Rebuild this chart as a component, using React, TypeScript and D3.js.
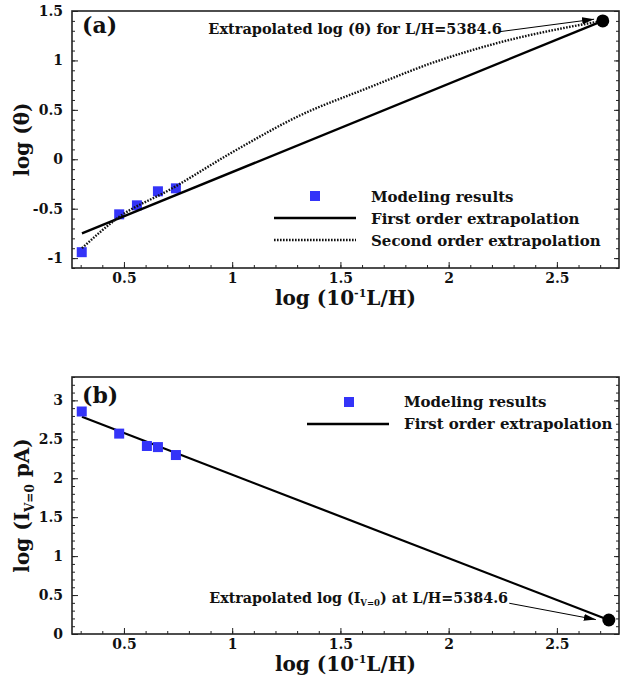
import React, { useEffect, useRef } from 'react';
import * as d3 from 'd3';

const W = 622;
const H = 684;
const FONT = '"DejaVu Serif", serif';
const BLUE = '#3434f8';

// Panel (a): log(theta)
const modelXa = [0.305, 0.478, 0.56, 0.657, 0.74];
const modelYa = [-0.94, -0.557, -0.466, -0.324, -0.294];
const firstXa = [0.306, 2.712];
const firstYa = [-0.75, 1.4];
const secondXa = [0.306, 0.48, 0.71, 1.0, 1.315, 1.625, 1.931, 2.241, 2.551, 2.712];
const secondYa = [-0.9, -0.58, -0.31, 0.07, 0.445, 0.72, 0.98, 1.185, 1.336, 1.4];
const extrapA = [2.712, 1.4];

// Panel (b): log(I_V=0)
const modelXb = [0.305, 0.478, 0.606, 0.657, 0.74];
const modelYb = [2.857, 2.573, 2.414, 2.4, 2.298];
const firstXb = [0.306, 2.74];
const firstYb = [2.79, 0.18];
const extrapB = [2.74, 0.18];

const xTicks = [0.5, 1, 1.5, 2, 2.5];
const yTicksA = [-1, -0.5, 0, 0.5, 1, 1.5];
const yTicksB = [0, 0.5, 1, 1.5, 2, 2.5, 3];

const pts = (xs: number[], ys: number[]) => xs.map((x, i) => [x, ys[i]] as [number, number]);

const App: React.FC = () => {
  const svgRef = useRef<SVGSVGElement>(null);

  useEffect(() => {
    if (!svgRef.current) return;
    const svg = d3.select(svgRef.current);
    svg.selectAll('*').remove();

    const defs = svg.append('defs');
    defs.append('marker')
      .attr('id', 'arrow')
      .attr('markerUnits', 'userSpaceOnUse')
      .attr('markerWidth', 13)
      .attr('markerHeight', 8)
      .attr('refX', 12)
      .attr('refY', 3.5)
      .attr('orient', 'auto')
      .append('path')
      .attr('d', 'M0,0 L12,3.5 L0,7 Z')
      .attr('fill', '#000');

    const left = 72, right = 619;

    const x = d3.scaleLinear().domain([0.26, 2.787]).range([left, right]);

    const drawPanel = (
      top: number,
      bottom: number,
      yDomain: [number, number],
      yTicks: number[],
      yMinorStart: number
    ) => {
      const y = d3.scaleLinear().domain(yDomain).range([bottom, top]);
      const g = svg.append('g');

      const xMinor = d3.range(0.3, 2.76, 0.1).map(v => +v.toFixed(2));
      const yMinor = d3.range(yMinorStart, yDomain[1] + 0.001, 0.1).map(v => +v.toFixed(2));

      // bottom axis
      g.append('g')
        .attr('transform', `translate(0,${bottom})`)
        .call(d3.axisBottom(x).tickValues(xMinor).tickSize(-3).tickFormat(() => ''))
        .call(a => a.select('.domain').remove());
      g.append('g')
        .attr('transform', `translate(0,${bottom})`)
        .call(d3.axisBottom(x).tickValues(xTicks).tickSize(-6).tickPadding(5).tickFormat(d => String(d)))
        .call(a => a.select('.domain').remove())
        .call(a => a.selectAll('text').attr('font-family', FONT).attr('font-weight', 'bold').attr('font-size', 14).attr('fill', '#111'));

      // left axis
      g.append('g')
        .attr('transform', `translate(${left},0)`)
        .call(d3.axisLeft(y).tickValues(yMinor).tickSize(-3).tickFormat(() => ''))
        .call(a => a.select('.domain').remove());
      g.append('g')
        .attr('transform', `translate(${left},0)`)
        .call(d3.axisLeft(y).tickValues(yTicks).tickSize(-6).tickPadding(9).tickFormat(d => String(d)))
        .call(a => a.select('.domain').remove())
        .call(a => a.selectAll('text').attr('font-family', FONT).attr('font-weight', 'bold').attr('font-size', 14).attr('fill', '#111'));

      // right axis (ticks only)
      g.append('g')
        .attr('transform', `translate(${right},0)`)
        .call(d3.axisRight(y).tickValues(yMinor).tickSize(-3).tickFormat(() => ''))
        .call(a => a.select('.domain').remove());
      g.append('g')
        .attr('transform', `translate(${right},0)`)
        .call(d3.axisRight(y).tickValues(yTicks).tickSize(-5).tickFormat(() => ''))
        .call(a => a.select('.domain').remove());

      g.selectAll('.tick line').attr('stroke', '#222').attr('stroke-width', 1);

      // frame
      g.append('rect')
        .attr('x', left)
        .attr('y', top)
        .attr('width', right - left)
        .attr('height', bottom - top)
        .attr('fill', 'none')
        .attr('stroke', '#222')
        .attr('stroke-width', 1.6);

      return { g, y };
    };

    const line = (yS: d3.ScaleLinear<number, number>) =>
      d3.line<[number, number]>().x(d => x(d[0])).y(d => yS(d[1]));

    const squares = (g: any, yS: d3.ScaleLinear<number, number>, data: [number, number][]) => {
      g.selectAll(null)
        .data(data)
        .enter().append('rect')
        .attr('x', (d: [number, number]) => x(d[0]) - 5)
        .attr('y', (d: [number, number]) => yS(d[1]) - 5)
        .attr('width', 10)
        .attr('height', 10)
        .attr('fill', BLUE);
    };

    const boldText = (g: any, tx: number, ty: number, size: number, anchor = 'start') =>
      g.append('text')
        .attr('x', tx)
        .attr('y', ty)
        .attr('font-family', FONT)
        .attr('font-weight', 'bold')
        .attr('font-size', size)
        .attr('text-anchor', anchor)
        .attr('fill', '#111');

    // ---------- Panel (a) ----------
    const A = drawPanel(11, 268, [-1.1, 1.5], yTicksA, -1.1);
    const ya = A.y;

    squares(A.g, ya, pts(modelXa, modelYa));

    A.g.append('path')
      .datum(pts(firstXa, firstYa))
      .attr('d', line(ya))
      .attr('fill', 'none')
      .attr('stroke', '#000')
      .attr('stroke-width', 2.4);

    A.g.append('path')
      .datum(pts(secondXa, secondYa))
      .attr('d', line(ya).curve(d3.curveMonotoneX))
      .attr('fill', 'none')
      .attr('stroke', '#111')
      .attr('stroke-width', 2.4)
      .attr('stroke-dasharray', '1.6,1.4');

    A.g.append('circle')
      .attr('cx', x(extrapA[0]))
      .attr('cy', ya(extrapA[1]))
      .attr('r', 6.5)
      .attr('fill', '#000');

    boldText(A.g, x(0.89), ya(1.265), 14.5).text('Extrapolated log (θ) for L/H=5384.6');
    A.g.append('line')
      .attr('x1', x(2.233)).attr('y1', ya(1.29))
      .attr('x2', x(2.672)).attr('y2', ya(1.417))
      .attr('stroke', '#000').attr('stroke-width', 1)
      .attr('marker-end', 'url(#arrow)');

    boldText(A.g, 82, 33, 22).text('(a)');

    // legend (a)
    A.g.append('rect').attr('x', 310).attr('y', 191).attr('width', 10).attr('height', 10).attr('fill', BLUE);
    A.g.append('line').attr('x1', 274).attr('x2', 356).attr('y1', 218).attr('y2', 218)
      .attr('stroke', '#000').attr('stroke-width', 2.4);
    A.g.append('line').attr('x1', 274).attr('x2', 356).attr('y1', 240).attr('y2', 240)
      .attr('stroke', '#111').attr('stroke-width', 2.4).attr('stroke-dasharray', '1.6,1.4');
    boldText(A.g, 371, 202, 15).text('Modeling results');
    boldText(A.g, 371, 223.5, 15).text('First order extrapolation');
    boldText(A.g, 371, 245.5, 15).text('Second order extrapolation');

    // axis titles (a)
    const xtA = boldText(A.g, (left + right) / 2, 305, 20, 'middle');
    xtA.append('tspan').text('log (10');
    xtA.append('tspan').attr('font-size', 11).attr('dy', -8).text('-1');
    xtA.append('tspan').attr('dy', 8).text('L/H)');

    const ytA = A.g.append('text')
      .attr('transform', `translate(29,${(11 + 268) / 2}) rotate(-90)`)
      .attr('font-family', FONT).attr('font-weight', 'bold').attr('font-size', 20)
      .attr('text-anchor', 'middle').attr('fill', '#111');
    ytA.text('log (θ)');

    // ---------- Panel (b) ----------
    const B = drawPanel(377, 634, [0, 3.3], yTicksB, 0);
    const yb = B.y;

    B.g.append('path')
      .datum(pts(firstXb, firstYb))
      .attr('d', line(yb))
      .attr('fill', 'none')
      .attr('stroke', '#000')
      .attr('stroke-width', 2.2);

    squares(B.g, yb, pts(modelXb, modelYb));

    B.g.append('circle')
      .attr('cx', x(extrapB[0]))
      .attr('cy', yb(extrapB[1]))
      .attr('r', 6.5)
      .attr('fill', '#000');

    const annB = boldText(B.g, x(0.894), yb(0.4), 14.3);
    annB.append('tspan').text('Extrapolated log (I');
    annB.append('tspan').attr('font-size', 8.5).attr('dy', 3).text('V=0');
    annB.append('tspan').attr('dy', -3).text(') at L/H=5384.6');
    B.g.append('line')
      .attr('x1', x(2.28)).attr('y1', yb(0.395))
      .attr('x2', x(2.68)).attr('y2', yb(0.185))
      .attr('stroke', '#000').attr('stroke-width', 1)
      .attr('marker-end', 'url(#arrow)');

    boldText(B.g, 82, 403, 22).text('(b)');

    // legend (b)
    B.g.append('rect').attr('x', 344).attr('y', 397).attr('width', 10).attr('height', 10).attr('fill', BLUE);
    B.g.append('line').attr('x1', 307).attr('x2', 389).attr('y1', 424).attr('y2', 424)
      .attr('stroke', '#000').attr('stroke-width', 2.4);
    boldText(B.g, 404, 407, 15).text('Modeling results');
    boldText(B.g, 404, 429, 15).text('First order extrapolation');

    const xtB = boldText(B.g, (left + right) / 2, 671, 20, 'middle');
    xtB.append('tspan').text('log (10');
    xtB.append('tspan').attr('font-size', 11).attr('dy', -8).text('-1');
    xtB.append('tspan').attr('dy', 8).text('L/H)');

    const ytB = B.g.append('text')
      .attr('transform', `translate(29,${(377 + 634) / 2}) rotate(-90)`)
      .attr('font-family', FONT).attr('font-weight', 'bold').attr('font-size', 20)
      .attr('text-anchor', 'middle').attr('fill', '#111');
    ytB.append('tspan').text('log (I');
    ytB.append('tspan').attr('font-size', 12).attr('dy', 5).text('V=0');
    ytB.append('tspan').attr('dy', -5).text(' pA)');
  }, []);

  return (
    <svg
      ref={svgRef}
      width={W}
      height={H}
      style={{ position: 'absolute', left: 0, top: 0, background: '#fff' }}
    />
  );
};

export default App;
